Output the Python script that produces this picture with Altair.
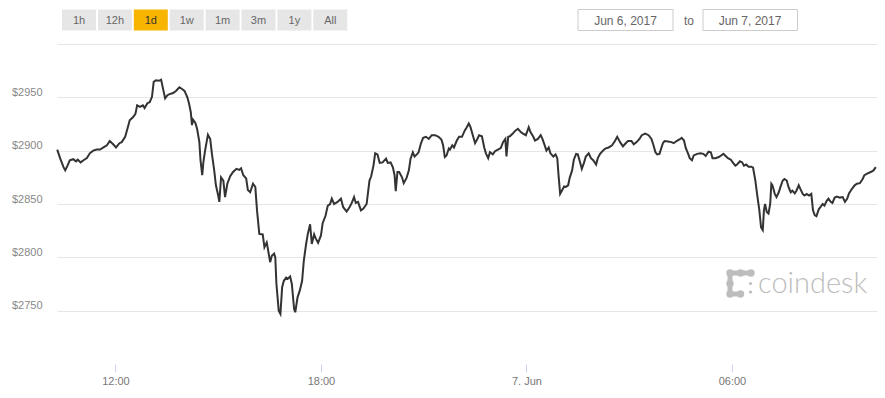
import altair as alt
import pandas as pd

# ---- data: minutes after 2017-06-06 10:00 and BTC price (USD) ----
minutes = [18, 23, 29, 32, 36, 40, 46, 51, 54, 59, 64, 70, 75, 81, 87, 93, 99, 105, 110, 116,
           121, 127, 131, 137, 141, 145, 151, 155, 158, 163, 168, 171, 176, 180, 184, 187, 191, 196, 200, 204,
           207, 211, 215, 221, 226, 232, 236, 241, 246, 249, 252, 254, 256, 260, 263, 267, 269, 272, 274, 277,
           282, 286, 289, 293, 296, 300, 302, 305, 309, 312, 316, 321, 326, 332, 337, 340, 344, 349, 352, 356,
           361, 365, 368, 372, 378, 381, 385, 387, 391, 394, 398, 400, 402, 406, 409, 412, 415, 419, 422, 426,
           429, 433, 435, 439, 443, 447, 450, 454, 457, 461, 464, 468, 471, 475, 480, 483, 488, 492, 496, 499,
           503, 509, 515, 519, 525, 530, 534, 538, 541, 545, 550, 554, 560, 565, 568, 572, 575, 579, 583, 588,
           594, 597, 602, 606, 609, 611, 614, 617, 622, 625, 630, 634, 637, 641, 644, 648, 651, 655, 659, 664,
           669, 674, 680, 686, 691, 694, 697, 700, 704, 706, 710, 713, 718, 722, 727, 732, 735, 739, 742, 746,
           750, 754, 757, 762, 766, 769, 773, 776, 781, 785, 790, 795, 799, 803, 805, 808, 811, 816, 820, 825,
           830, 834, 839, 844, 847, 852, 855, 860, 865, 868, 872, 875, 879, 882, 887, 891, 894, 896, 899, 902,
           906, 909, 913, 916, 920, 923, 927, 930, 934, 937, 941, 944, 949, 953, 957, 962, 965, 969, 974, 978,
           984, 990, 995, 999, 1004, 1009, 1013, 1018, 1024, 1028, 1033, 1038, 1042, 1048, 1054, 1059, 1062, 1066, 1069, 1073,
           1079, 1082, 1088, 1094, 1098, 1103, 1108, 1112, 1116, 1119, 1123, 1126, 1130, 1133, 1139, 1145, 1150, 1154, 1159, 1163,
           1166, 1171, 1177, 1181, 1185, 1188, 1193, 1198, 1202, 1206, 1209, 1214, 1218, 1221, 1225, 1229, 1234, 1237, 1241, 1244,
           1248, 1251, 1254, 1256, 1258, 1261, 1264, 1267, 1269, 1271, 1275, 1278, 1282, 1285, 1289, 1292, 1296, 1299, 1303, 1306,
           1310, 1313, 1317, 1320, 1324, 1327, 1331, 1335, 1339, 1342, 1345, 1348, 1352, 1355, 1359, 1362, 1366, 1369, 1373, 1376,
           1380, 1384, 1389, 1394, 1398, 1402, 1405, 1410, 1415, 1419, 1424, 1429, 1432, 1437, 1443, 1448, 1452]

price = [2901, 2893, 2884.5, 2881.5, 2886, 2891, 2892, 2890, 2891.5, 2889, 2891, 2893, 2897.5, 2900, 2901, 2901, 2903, 2905, 2909, 2906,
         2903, 2907, 2908, 2913, 2920.5, 2928.5, 2931.5, 2934.5, 2942.5, 2941, 2942.5, 2940, 2944.5, 2945.5, 2950.5, 2964.5, 2966, 2965.5, 2966.5, 2956.5,
         2949, 2952, 2953, 2954, 2956, 2959.5, 2958, 2956, 2950, 2944, 2936, 2924, 2929, 2926, 2920.5, 2908, 2891, 2877, 2889, 2900,
         2915, 2911, 2897, 2881.5, 2867.5, 2858, 2852, 2875, 2872, 2856.5, 2869, 2876, 2880, 2883, 2882, 2883.5, 2877, 2874, 2863, 2861,
         2869, 2866, 2844, 2822, 2821.5, 2809.5, 2814, 2808, 2795.5, 2801.5, 2803.5, 2800, 2775, 2750, 2747, 2772, 2778, 2781, 2780, 2782,
         2775, 2751.5, 2748.5, 2762.5, 2769, 2778, 2797, 2812.5, 2822, 2831, 2812.5, 2821.5, 2817.5, 2813.5, 2820.5, 2832, 2839, 2848.5, 2850, 2855,
         2850, 2852, 2855, 2847, 2843, 2847, 2851, 2856.5, 2851, 2852, 2844, 2845.5, 2850, 2872, 2876, 2886, 2897.5, 2896.5, 2888.5, 2889,
         2892.5, 2888.5, 2889, 2884.5, 2877, 2862, 2880, 2880, 2875, 2869.5, 2874.5, 2881.5, 2892.5, 2898.5, 2894.5, 2896.5, 2898.5, 2906.5, 2912, 2913,
         2911, 2914.5, 2914.5, 2913, 2910.5, 2905, 2894, 2895.5, 2902, 2901, 2905, 2903, 2909.5, 2913, 2913, 2919, 2921.5, 2925.5, 2922, 2914.5,
         2907, 2911, 2914.5, 2913.5, 2903, 2897.5, 2893, 2898.5, 2896.5, 2899.5, 2901, 2902.5, 2908, 2911, 2894.5, 2913, 2913.5, 2916, 2918.5, 2920.5,
         2917.5, 2916, 2914.5, 2922, 2917.5, 2913, 2909.5, 2911, 2914.5, 2911, 2905, 2900, 2903, 2897.5, 2894.5, 2896.5, 2893, 2878.5, 2859.5, 2862.5,
         2866.5, 2866, 2867.5, 2875, 2881.5, 2891.5, 2897, 2896.5, 2889, 2883, 2889, 2894.5, 2897.5, 2893, 2891, 2887, 2893, 2897, 2900, 2902,
         2903, 2905, 2909, 2913, 2908, 2904, 2906.5, 2909, 2909, 2906, 2908, 2911, 2914.5, 2916, 2914.5, 2911, 2906, 2898.5, 2896.5, 2897,
         2907, 2909, 2908.5, 2908, 2907, 2909, 2910.5, 2912, 2909.5, 2902.5, 2897.5, 2893, 2891, 2895.5, 2897, 2897.5, 2897, 2895, 2899, 2898.5,
         2893, 2893, 2894, 2895.5, 2897, 2895.5, 2893, 2891.5, 2888.5, 2886, 2887, 2890, 2889, 2886, 2887, 2885, 2885, 2884, 2872, 2859.5,
         2844, 2828, 2825.5, 2844, 2850, 2842.5, 2841, 2850, 2869, 2867.5, 2859.5, 2856.5, 2861, 2866, 2872, 2873.5, 2872, 2866, 2861, 2862.5,
         2860, 2862.5, 2867.5, 2864, 2859.5, 2858, 2859.5, 2858, 2859.5, 2844, 2839.5, 2838.5, 2845, 2847, 2850, 2848.5, 2853, 2855, 2852, 2851,
         2856, 2857, 2856, 2856.5, 2852, 2855, 2860, 2864, 2867.5, 2869, 2869.5, 2873.5, 2877, 2878.5, 2880, 2881.5, 2884.5]

x_tick_minutes = [120, 480, 840, 1200]
x_tick_labels = ["12:00", "18:00", "7. Jun", "06:00"]
y_ticks = [2750, 2800, 2850, 2900, 2950, 3000]

range_buttons = ["1h", "12h", "1d", "1w", "1m", "3m", "1y", "All"]
selected_button = "1d"
date_from = "Jun 6, 2017"
date_to = "Jun 7, 2017"
brand = "coindesk"

# ---- layout ----
LEFT, TOP, RIGHT, BOTTOM = 57, 44, 8, 34
W, H = 820, 320
FONT = "Liberation Sans"

df = pd.DataFrame({"minute": minutes, "price": price})

label_expr = " : ".join(
    f"datum.value == {m} ? '{lab}'" for m, lab in zip(x_tick_minutes, x_tick_labels)
) + " : ''"

line = alt.Chart(df).mark_line(color="#333333", strokeWidth=2).encode(
    x=alt.X("minute:Q",
            scale=alt.Scale(domain=[17.6, 1454.1], nice=False, zero=False),
            axis=alt.Axis(values=x_tick_minutes, labelExpr=label_expr, title=None,
                          grid=False, domain=False, ticks=True, tickSize=8,
                          tickColor="#ccd6eb", labelColor="#777777", labelFontSize=11,
                          labelFont=FONT, labelPadding=3, labelFlush=False,
                          labelBaseline="top")),
    y=alt.Y("price:Q",
            scale=alt.Scale(domain=[2700, 3000], nice=False, zero=False),
            axis=alt.Axis(values=y_ticks, labelExpr="datum.value >= 3000 ? '' : '$' + datum.value",
                          title=None, grid=True, gridColor="#e6e6e6", gridWidth=1,
                          domain=False, ticks=False, labelPadding=15, labelOffset=-5,
                          labelColor="#888888", labelFontSize=11, labelFont=FONT)),
)

one = pd.DataFrame({"k": [0]})


def rect(x0, y0, x1, y1, **kw):
    return alt.Chart(one).mark_rect(**kw).encode(
        x=alt.value(x0 - LEFT), x2=alt.value(x1 - LEFT),
        y=alt.value(y0 - TOP), y2=alt.value(y1 - TOP))


def text(s, x, y, **kw):
    return alt.Chart(one).mark_text(text=s, **kw).encode(
        x=alt.value(x - LEFT), y=alt.value(y - TOP))


def rule(x0, y0, x1, y1, **kw):
    return alt.Chart(one).mark_rule(**kw).encode(
        x=alt.value(x0 - LEFT), x2=alt.value(x1 - LEFT),
        y=alt.value(y0 - TOP), y2=alt.value(y1 - TOP))


def dot(x, y, **kw):
    return alt.Chart(one).mark_circle(opacity=1, **kw).encode(
        x=alt.value(x - LEFT), y=alt.value(y - TOP))


deco = []
# range buttons
for i, lab in enumerate(range_buttons):
    x0 = 62 + i * 35.9
    sel = lab == selected_button
    deco.append(rect(x0, 9.5, x0 + 34, 30.5, color="#f7b500" if sel else "#e6e6e6"))
    deco.append(text(lab, x0 + 17, 20.5, font=FONT, fontSize=11, align="center", baseline="middle",
                     color="#333333" if sel else "#666666"))

# date inputs
deco.append(rect(578, 9.5, 673, 30.5, fill="white", stroke="#cccccc", strokeWidth=1))
deco.append(text(date_from, 625.5, 20.5, font=FONT, fontSize=12, align="center", baseline="middle", color="#666666"))
deco.append(text("to", 689, 21, font=FONT, fontSize=12, align="center", baseline="middle", color="#666666"))
deco.append(rect(703, 9.5, 797.5, 30.5, fill="white", stroke="#cccccc", strokeWidth=1))
deco.append(text(date_to, 750, 20.5, font=FONT, fontSize=12, align="center", baseline="middle", color="#666666"))

# coindesk watermark
LOGO = "#bdbdbd"
deco.append(rule(730, 273, 751, 273, color=LOGO, strokeWidth=5, strokeCap="round"))
deco.append(rule(730, 273, 730, 294, color=LOGO, strokeWidth=5, strokeCap="round"))
deco.append(rule(730, 294, 740.5, 294, color=LOGO, strokeWidth=5, strokeCap="round"))
for (cx, cy) in [(730, 273), (740.5, 273), (751, 273), (730, 283.5), (730, 294), (740.5, 294)]:
    deco.append(dot(cx, cy, size=55, color=LOGO))
for (cx, cy) in [(750.5, 283.5), (750.5, 292)]:
    deco.append(dot(cx, cy, size=10, color=LOGO))
deco.append(text(brand, 758, 292.5, font="Lato", fontSize=29, fontWeight=300, align="left",
                 baseline="alphabetic", color=LOGO))

chart = alt.layer(line, *deco).properties(
    width=W, height=H,
    padding={"left": LEFT, "top": TOP, "right": RIGHT, "bottom": BOTTOM},
    autosize=alt.AutoSizeParams(type="none"),
    background="white",
).configure_view(strokeWidth=0)

chart.save("out.html", embed_options={"renderer": "svg", "actions": False})
